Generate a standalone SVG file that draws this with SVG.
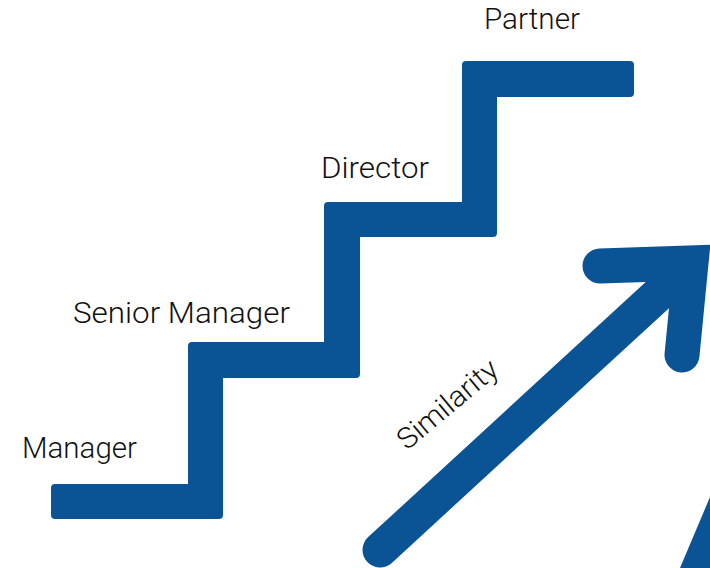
<svg xmlns="http://www.w3.org/2000/svg" width="710" height="568" viewBox="0 0 710 568">
  <style>
    .label { font-family: Roboto, "Liberation Sans", Arial, sans-serif; font-weight: 300; font-size: 29px; fill: #111111; }
    .blue { fill: #0a5395; stroke: #0a5395; }
  </style>
  <rect width="710" height="568" fill="#ffffff"/>

  <!-- Career staircase: outline inset by 4, stroked with round joins for softened corners -->
  <g id="staircase">
    <polygon class="blue" stroke-width="8" stroke-linejoin="round"
      points="55,515 219,515 219,374 356,374 356,233 493,233 493,93 630,93 630,65 466,65 466,206 328,206 328,346 192,346 192,488 55,488"/>
  </g>

  <g id="step-manager">
    <text class="label" x="22" y="458" textLength="115" lengthAdjust="spacingAndGlyphs">Manager</text>
  </g>
  <g id="step-senior-manager">
    <text class="label" x="73" y="323" textLength="217" lengthAdjust="spacingAndGlyphs">Senior Manager</text>
  </g>
  <g id="step-director">
    <text class="label" x="321" y="178" textLength="108" lengthAdjust="spacingAndGlyphs">Director</text>
  </g>
  <g id="step-partner">
    <text class="label" x="484" y="29" textLength="96" lengthAdjust="spacingAndGlyphs">Partner</text>
  </g>

  <!-- Rising arrow -->
  <g id="similarity-arrow" fill="none" stroke="#0a5395" stroke-width="35">
    <path d="M380,550 L689,266" stroke-linecap="round"/>
    <path d="M600,266 L691,263 L682,355" stroke-linecap="round" stroke-linejoin="miter"/>
  </g>
  <g id="similarity-label">
    <text class="label" x="407" y="451" textLength="122" lengthAdjust="spacingAndGlyphs" transform="rotate(-40 407 451)">Similarity</text>
  </g>

  <!-- Corner wedge at bottom right -->
  <g id="corner-wedge">
    <polygon points="680,568 710,497 710,568" fill="#0a5395"/>
  </g>
</svg>
